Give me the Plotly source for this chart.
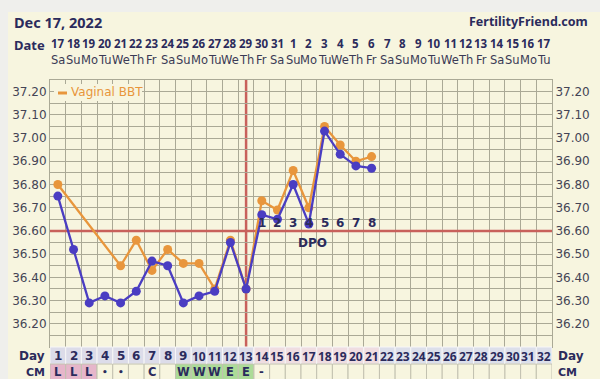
import plotly.graph_objects as go

# ---------------- data ----------------
cycle_days = list(range(1, 33))
dates = [17, 18, 19, 20, 21, 22, 23, 24, 25, 26, 27, 28, 29, 30, 31,
         1, 2, 3, 4, 5, 6, 7, 8, 9, 10, 11, 12, 13, 14, 15, 16, 17]
weekdays = ["Sa", "Su", "Mo", "Tu", "We", "Th", "Fr"] * 4 + ["Sa", "Su", "Mo", "Tu"]

blue_days = list(range(1, 22))
blue_temps = [36.75, 36.52, 36.29, 36.32, 36.29, 36.34, 36.47, 36.45, 36.29, 36.32,
              36.34, 36.55, 36.35, 36.67, 36.65, 36.80, 36.63, 37.03, 36.93, 36.88, 36.87]

orange_days = [1, 5, 6, 7, 8, 9, 10, 11, 12, 13, 14, 15, 16, 17, 18, 19, 20, 21]
orange_temps = [36.80, 36.45, 36.56, 36.43, 36.52, 36.46, 36.46, 36.35, 36.56, 36.35,
                36.73, 36.69, 36.86, 36.70, 37.05, 36.97, 36.90, 36.92]

coverline = 36.60
ovulation_day = 13
dpo_days = [14, 15, 16, 17, 18, 19, 20, 21]
dpo_labels = ["1", "2", "3", "4", "5", "6", "7", "8"]

cm_labels = ["L", "L", "L", "•", "•", "", "C", "", "W", "W", "W", "E", "E", "-"] + [""] * 18
temp_ticks = [36.20, 36.30, 36.40, 36.50, 36.60, 36.70, 36.80, 36.90, 37.00, 37.10, 37.20]

# ---------------- styling ----------------
FONT = "DejaVu Sans"
NFONT = "Noto Sans"
NAVY = "#2b2b5c"
BLUE = "#4a3dc2"
ORANGE = "#e8963c"
RED = "#c8615b"
GRID = "#aaa996"
CREAM = "#f7f5df"
OUTER = "#efefec"

L, R, T, B = 50, 552, 80, 347
W, H = R - L, B - T


def xp(px):
    return (px - L) / W


def yp(py):
    return (B - py) / H


fig = go.Figure()

fig.add_trace(go.Scatter(x=orange_days, y=orange_temps, mode="lines+markers",
                         line=dict(color=ORANGE, width=2.3),
                         marker=dict(color=ORANGE, size=9), showlegend=False))
fig.add_trace(go.Scatter(x=blue_days, y=blue_temps, mode="lines+markers",
                         line=dict(color=BLUE, width=2.3),
                         marker=dict(color=BLUE, size=9), showlegend=False))
# invisible trace so the right axis is drawn
fig.add_trace(go.Scatter(x=[1], y=[36.2], yaxis="y2", mode="markers",
                         marker=dict(opacity=0), showlegend=False, hoverinfo="skip"))

grid_vals = [round(36.10 + 0.05 * k, 2) for k in range(24)]
grid_text = [("%.2f" % v) if any(abs(v - t) < 1e-6 for t in temp_ticks) else "" for v in grid_vals]

shapes = []
annotations = []


def ann(**kw):
    kw.setdefault("showarrow", False)
    kw.setdefault("yanchor", "middle")
    kw.setdefault("xanchor", "center")
    annotations.append(kw)


# cream panel
shapes.append(dict(type="rect", xref="paper", yref="paper", x0=xp(8), x1=xp(600),
                   y0=yp(379), y1=yp(12), fillcolor=CREAM, line=dict(width=0), layer="below"))

# coverline and ovulation line
shapes.append(dict(type="line", xref="x", yref="y", x0=0.5, x1=32.5, y0=coverline, y1=coverline,
                   line=dict(color=RED, width=2.5), layer="between"))
shapes.append(dict(type="line", xref="x", yref="paper", x0=ovulation_day, x1=ovulation_day,
                   y0=0, y1=1, line=dict(color=RED, width=2.5), layer="between"))

# day row and cm row
for i, d in enumerate(cycle_days):
    if d <= 13:
        c = "#dcdce9"
    elif d <= 21:
        c = "#efdde1"
    else:
        c = "#dcdfea"
    shapes.append(dict(type="rect", xref="x", yref="paper", x0=d - 0.5, x1=d + 0.5,
                       y0=yp(364), y1=yp(347), fillcolor=c,
                       line=dict(color="#f6f6f6", width=1), layer="above"))
    lab = cm_labels[i]
    if lab == "L":
        cc = "#e6b6ca"
    elif lab in ("W", "E"):
        cc = "#acdb98"
    else:
        cc = CREAM
    shapes.append(dict(type="rect", xref="x", yref="paper", x0=d - 0.5, x1=d + 0.5,
                       y0=yp(382), y1=yp(364), fillcolor=cc,
                       line=dict(color="#c2c1b0", width=1), layer="above"))
    ann(x=d, y=yp(356), xref="x", yref="paper", text="<b>%d</b>" % d,
        font=dict(family=FONT if d < 10 else NFONT, size=12, color=NAVY))
    if lab:
        ann(x=d, y=yp(372), xref="x", yref="paper", text="<b>%s</b>" % lab,
            font=dict(family=FONT, size=11.5 if lab != "•" else 9, color=NAVY))
    ann(x=d, y=yp(43), xref="x", yref="paper", text="<b>%d</b>" % dates[i],
        font=dict(family=NFONT, size=11.5, color=NAVY))
    ann(x=d, y=yp(60), xref="x", yref="paper", text=weekdays[i],
        font=dict(family=FONT, size=11.5, color="#3a3a55"))

# row labels
for txt, py in (("Day", 356), ("CM", 372)):
    ann(x=xp(47), y=yp(py), xref="paper", yref="paper", text="<b>%s</b>" % txt,
        xanchor="right", font=dict(family=FONT, size=12 if txt == "Day" else 11, color=NAVY))
    ann(x=xp(556), y=yp(py), xref="paper", yref="paper", text="<b>%s</b>" % txt,
        xanchor="left", font=dict(family=FONT, size=12 if txt == "Day" else 11, color=NAVY))

ann(x=xp(47), y=yp(45), xref="paper", yref="paper", text="<b>Date</b>",
    xanchor="right", font=dict(family=NFONT, size=13, color=NAVY))
ann(x=xp(12), y=yp(22), xref="paper", yref="paper", text="<b>Dec 17, 2022</b>",
    xanchor="left", font=dict(family=NFONT, size=14.5, color=NAVY))
ann(x=xp(590), y=yp(22), xref="paper", yref="paper", text="<b>FertilityFriend.com</b>",
    xanchor="right", font=dict(family=NFONT, size=12.5, color=NAVY))

# DPO labels
for d, lab in zip(dpo_days, dpo_labels):
    ann(x=d, y=36.635, xref="x", yref="y", text="<b>%s</b>" % lab,
        font=dict(family=FONT, size=12, color=NAVY))
ann(x=17.25, y=36.548, xref="x", yref="y", text="<b>DPO</b>",
    font=dict(family=FONT, size=12, color=NAVY))

# legend
shapes.append(dict(type="rect", xref="paper", yref="paper", x0=xp(54), x1=xp(142),
                   y0=yp(101), y1=yp(84), fillcolor=CREAM, line=dict(width=0), layer="above"))
shapes.append(dict(type="line", xref="paper", yref="paper", x0=xp(58), x1=xp(67),
                   y0=yp(93), y1=yp(93), line=dict(color=ORANGE, width=3), layer="above"))
ann(x=xp(69), y=yp(92), xref="paper", yref="paper", text="Vaginal BBT",
    xanchor="left", font=dict(family=FONT, size=12, color=ORANGE))

axis_y = dict(range=[36.10, 37.25], tickvals=grid_vals, ticktext=grid_text,
              showgrid=True, gridcolor=GRID, gridwidth=1, zeroline=False, ticks="",
              tickfont=dict(family=FONT, size=12, color="#444455"),
              showline=True, linecolor=GRID, linewidth=1, fixedrange=True, automargin=False)

fig.update_layout(
    width=600, height=379,
    margin=dict(l=L, r=600 - R, t=T, b=379 - B, autoexpand=False),
    paper_bgcolor=OUTER, plot_bgcolor=CREAM,
    showlegend=False,
    xaxis=dict(range=[0.5, 32.5], tickvals=[k + 0.5 for k in range(0, 33)],
               showticklabels=False, showgrid=True, gridcolor=GRID, gridwidth=1,
               zeroline=False, ticks="", showline=True, linecolor=GRID, mirror=True,
               automargin=False, fixedrange=True),
    yaxis=axis_y,
    yaxis2=dict(axis_y, overlaying="y", side="right", showgrid=False),
    shapes=shapes,
    annotations=annotations,
)

fig.write_html("out.html", config={"displayModeBar": False},
               post_script="document.body.style.margin='0';document.body.style.overflow='hidden';")
